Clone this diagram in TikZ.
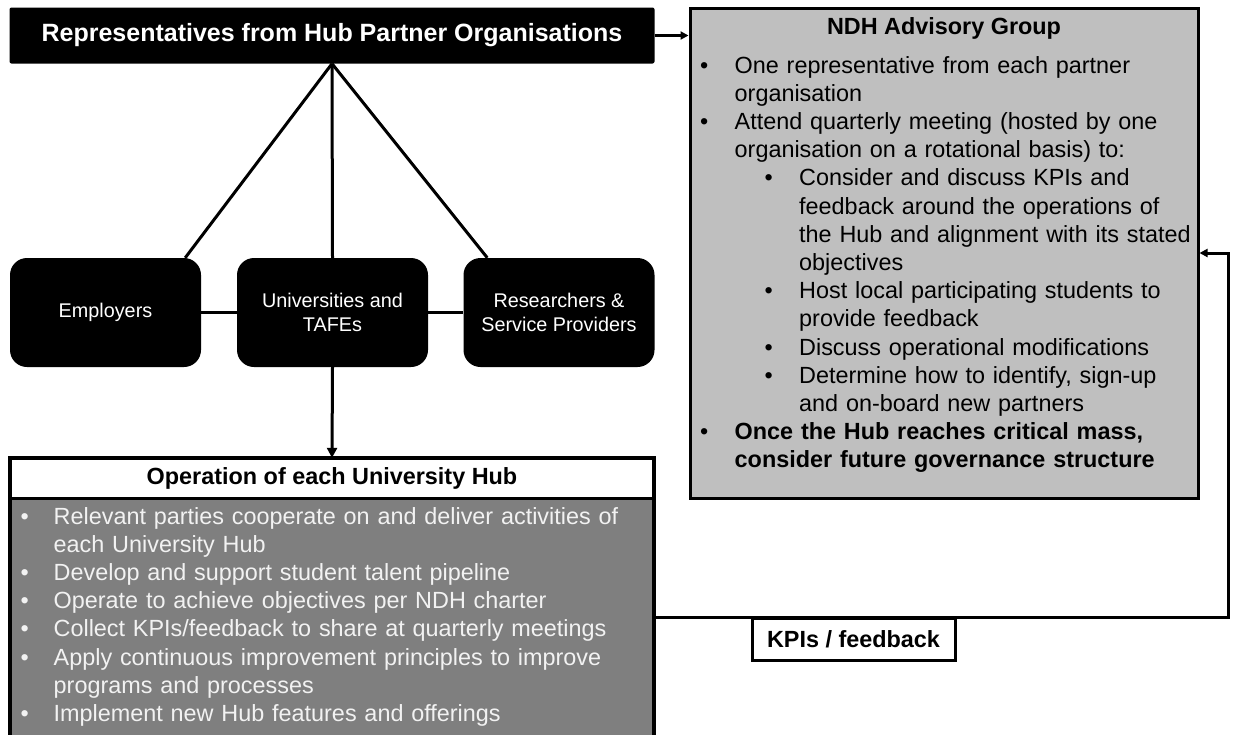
\documentclass[tikz,border=0pt]{standalone}
\usepackage{fontspec}
\setmainfont{Liberation Sans}
\usetikzlibrary{arrows.meta,calc}
\definecolor{advgray}{HTML}{BFBFBF}
\definecolor{hubgray}{HTML}{7F7F7F}
\definecolor{hubtext}{HTML}{F2F2F2}
\newcommand\nl{\hfil\break}
\newcommand\hitem[1]{\noindent\hangindent=33pt\hangafter=1\makebox[33pt][l]{•}#1\par}
\newcommand\aitem[1]{\noindent\hangindent=34.5pt\hangafter=1\makebox[34.5pt][l]{•}#1\par}
\newcommand\bitem[1]{\noindent\hangindent=99pt\hangafter=1\hspace*{64.5pt}\makebox[34.5pt][l]{•}#1\par}
\begin{document}
\begin{tikzpicture}[x=1pt,y=-1pt,
  conn/.style={line width=3pt},
  tipbig/.style={-{Triangle[length=10pt,width=10pt]}},
  tipsmall/.style={-{Triangle[length=8pt,width=8pt]}},
  pbox/.style={fill=black, rounded corners=17pt, minimum width=191pt, minimum height=109pt,
    inner sep=0pt, text=white, align=center, font=\fontsize{19.8}{23.5}\selectfont},
  bodytext/.style={font=\fontsize{23.4}{28.2}\selectfont, inner sep=0pt, align=left, anchor=base west}
]
\useasboundingbox (0,0) rectangle (1233,734);
\clip (0,0) rectangle (1233,734);

% header
\node[fill=black, minimum width=645pt, minimum height=56pt, inner sep=0pt, rounded corners=2pt]
  (rep) at (332, 35.5) {};
\node[text=white, font=\bfseries\fontsize{25}{30}\selectfont, inner sep=0pt]
  (reptext) at (332, 35.5) {Representatives from Hub Partner Organisations};

% partner boxes
\node[pbox] (emp) at (105.5, 312.5) {Employers};
\node[pbox] (uni) at (332.5, 312.5) {Universities and\\TAFEs};
\node[pbox] (res) at (559, 312.5) {Researchers \&\\Service Providers};

% advisory box
\node[draw, line width=3pt, fill=advgray, minimum width=508pt, minimum height=490pt, inner sep=0pt]
  (adv) at (944, 253) {};
\node[font=\bfseries\fontsize{23.4}{28.2}\selectfont, inner sep=0pt] (advtitle) at (944, 28) {NDH Advisory Group};
\node[bodytext, text width=520pt] (advtxt) at (700, 73) {%
\aitem{One representative from each partner\nl organisation}%
\aitem{Attend quarterly meeting (hosted by one\nl organisation on a rotational basis) to:}%
\bitem{Consider and discuss KPIs and\nl feedback around the operations of\nl the Hub and alignment with its stated\nl objectives}%
\bitem{Host local participating students to\nl provide feedback}%
\bitem{Discuss operational modifications}%
\bitem{Determine how to identify, sign-up\nl and on-board new partners}%
\aitem{\bfseries Once the Hub reaches critical mass,\nl consider future governance structure}};

% hub box
\node[fill=white, minimum width=644pt, minimum height=40pt, inner sep=0pt,
  font=\bfseries\fontsize{23.4}{28.2}\selectfont] (hubtitle) at (332, 478) {Operation of each University Hub};
\node[fill=hubgray, minimum width=644pt, minimum height=247pt, inner sep=0pt] (hubbody) at (332, 621.5) {};
\draw[line width=3.5pt] (hubtitle.north west) rectangle (hubbody.south east);
\draw[line width=3pt] (hubtitle.south west) -- (hubtitle.south east);
\node[bodytext, text width=620pt, text=hubtext] (hubtxt) at (20.5, 524) {%
\hitem{Relevant parties cooperate on and deliver activities of\nl each University Hub}%
\hitem{Develop and support student talent pipeline}%
\hitem{Operate to achieve objectives per NDH charter}%
\hitem{Collect KPIs/feedback to share at quarterly meetings}%
\hitem{Apply continuous improvement principles to improve\nl programs and processes}%
\hitem{Implement new Hub features and offerings}};

% connectors
\draw[conn] (rep.south) -- ([xshift=-16pt]emp.north east);
\draw[conn] (rep.south) -- (uni.north);
\draw[conn] (rep.south) -- ([xshift=24pt]res.north west);
\draw[conn] (emp.east) -- (uni.west);
\draw[conn] (uni.east) -- (res.west);
\draw[conn, tipbig] (uni.south) -- (hubtitle.north);
\draw[conn, tipsmall] (rep.east) -- (rep.east -| adv.west);

% feedback loop
\coordinate (fbA) at (1228, 617);
\coordinate (fbB) at (1228, 253);
\draw[conn, tipsmall] (hubbody.east |- fbA) -- (fbA) -- (fbB) -- (fbB -| adv.east);
\node[draw, line width=3pt, fill=white, font=\bfseries\fontsize{23.4}{28.2}\selectfont,
  minimum width=203pt, minimum height=42pt, inner sep=0pt] (kpi) at (853.5, 639) {KPIs / feedback};
\end{tikzpicture}
\end{document}
